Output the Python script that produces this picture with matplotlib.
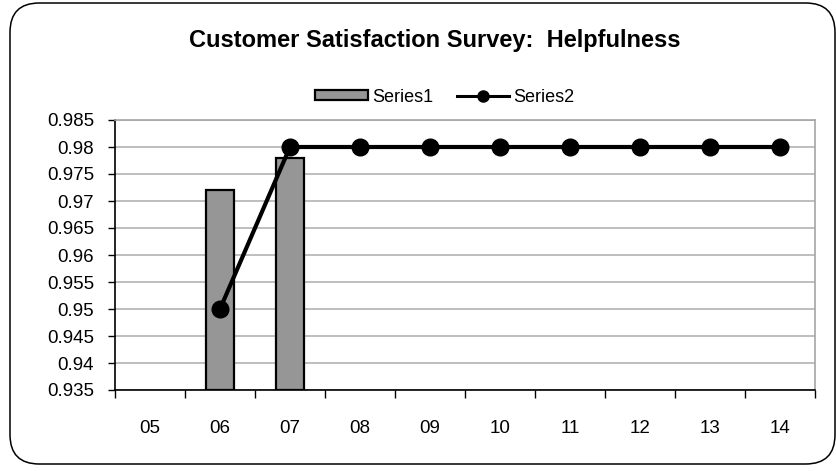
import matplotlib
matplotlib.use("Agg")
import matplotlib.pyplot as plt
from matplotlib.patches import FancyBboxPatch, Patch
from matplotlib.lines import Line2D
import numpy as np

plt.rcParams['font.family'] = ['Liberation Sans', 'DejaVu Sans']

categories = ["05", "06", "07", "08", "09", "10", "11", "12", "13", "14"]
series1 = [np.nan, 0.972, 0.978, np.nan, np.nan, np.nan, np.nan, np.nan, np.nan, np.nan]
series2 = [np.nan, 0.95, 0.98, 0.98, 0.98, 0.98, 0.98, 0.98, 0.98, 0.98]
yticks = [0.935, 0.94, 0.945, 0.95, 0.955, 0.96, 0.965, 0.97, 0.975, 0.98, 0.985]
ytick_labels = ["0.935", "0.94", "0.945", "0.95", "0.955", "0.96", "0.965", "0.97", "0.975", "0.98", "0.985"]

W, H = 837, 471
fig = plt.figure(figsize=(W/100, H/100), dpi=100)
fig.patch.set_facecolor('white')

frame = FancyBboxPatch((10/W, 7/H), 825/W, 461/H,
                       boxstyle="round,pad=0,rounding_size=0.035",
                       transform=fig.transFigure, facecolor='none',
                       edgecolor='black', linewidth=1.1, mutation_aspect=W/H,
                       zorder=-10)
fig.patches.append(frame)

ax = fig.add_axes([115/W, 1-390/H, 700/W, 270/H])
ax.patch.set_alpha(0)
x = np.arange(len(categories))
ax.set_xlim(-0.5, len(categories)-0.5)
ax.set_ylim(0.935, 0.985)

base = 0.935
heights = np.array(series1) - base
bars = ax.bar(x, heights, bottom=base,
              width=0.41, color='#969696', edgecolor='black', linewidth=1.6, zorder=3, label='Series1')
line, = ax.plot(x, series2, color='black', linewidth=3.0, marker='o', markersize=12,
                zorder=4, label='Series2')

ax.set_yticks(yticks)
ax.set_yticklabels(ytick_labels, fontsize=13.5)
ax.yaxis.grid(True, color='#b3b3b3', linewidth=1.2, zorder=0)
ax.set_axisbelow(True)

ax.set_xticks(x)
ax.set_xticklabels(categories, fontsize=13.5)
ax.tick_params(axis='x', which='major', length=0, pad=21.5)
ax.set_xticks(np.arange(-0.5, len(categories)), minor=True)
ax.tick_params(axis='x', which='minor', length=6, width=1, direction='out', color='black')
ax.tick_params(axis='y', length=5, width=1, direction='out', pad=10)

for s in ['top', 'right']:
    ax.spines[s].set_color('#a6a6a6')
    ax.spines[s].set_linewidth(1.2)
for s in ['left', 'bottom']:
    ax.spines[s].set_color('black')
    ax.spines[s].set_linewidth(1.2)

fig.text(435/W, 1-41/H, "Customer Satisfaction Survey:  Helpfulness",
         ha='center', va='center', fontsize=17, fontweight='bold')

h1 = Patch(facecolor='#969696', edgecolor='black', linewidth=1.6)
h2 = Line2D([], [], color='black', linewidth=2.2, marker='o', markersize=8)
fig.legend([h1, h2], ['Series1', 'Series2'], loc='center',
           bbox_to_anchor=(445/W, 1-97/H), ncol=2, frameon=False,
           fontsize=13, handlelength=2.9, handleheight=0.45,
           columnspacing=1.3, handletextpad=0.25)

fig.savefig("out.png", dpi=100)
